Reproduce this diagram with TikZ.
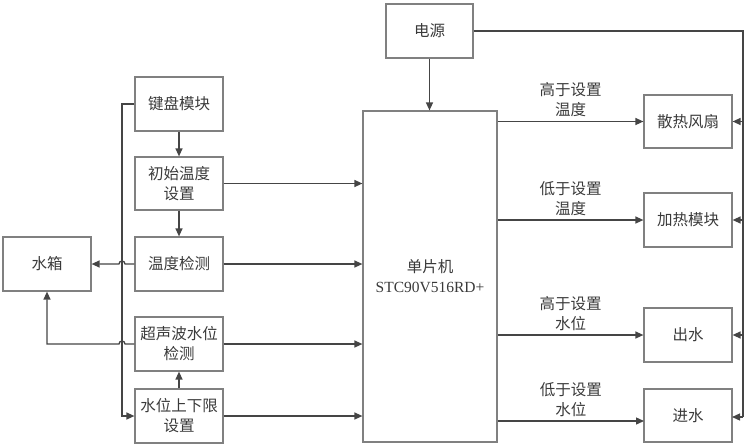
\documentclass[tikz,border=0pt]{standalone}
\usepackage{fontspec}
\setmainfont{Noto Sans CJK SC}
\newfontfamily\lat{Liberation Serif}
\usetikzlibrary{arrows.meta,calc}
\definecolor{boxc}{HTML}{808080}
\definecolor{linec}{HTML}{454545}
\definecolor{txtc}{HTML}{3A3A3A}
\tikzset{
 blk/.style={draw=boxc,line width=1.2pt,minimum width=88pt,minimum height=54pt,inner sep=0pt,align=center,text=txtc,font=\fontsize{15.5}{20}\selectfont},
 conn/.style={draw=linec,line width=1.3pt,-{Triangle[length=8pt,width=7pt]}},
 plain/.style={draw=linec,line width=1.3pt},
 lbl/.style={text=txtc,font=\fontsize{15.5}{20}\selectfont,align=center,inner sep=0pt},
}
\begin{document}
\begin{tikzpicture}[x=1pt,y=-1pt]
\useasboundingbox (0,0) rectangle (749,447);
% nodes
\node[blk,minimum width=87pt] (power) at (429.5,31) {电源};
\node[blk,minimum width=134pt,minimum height=331pt] (mcu) at (430,276.5) {单片机\\{\lat\fontsize{15.5}{20}\selectfont STC90V516RD+}};
\node[blk] (kb) at (179,104) {键盘模块};
\node[blk,minimum height=53pt] (init) at (179,183.5) {初始温度\\设置};
\node[blk] (tdet) at (179,264) {温度检测};
\node[blk] (ultra) at (179,344) {超声波水位\\检测};
\node[blk] (lim) at (179,416) {水位上下限\\设置};
\node[blk] (tank) at (47,264) {水箱};
\node[blk,minimum height=53pt] (fan) at (688,121.5) {散热风扇};
\node[blk] (heat) at (688,220) {加热模块};
\node[blk] (out) at (688,335) {出水};
\node[blk,minimum height=53pt] (in) at (688,415.5) {进水};
% helper coordinates
\coordinate (kbL) at (122,0);
\coordinate (rx) at (743,0);
\coordinate (inA) at (644,421);
\coordinate (inB) at (732,417);
% left side
\draw[conn] (power.south) -- (power.south |- mcu.north);
\draw[conn] (kb) -- (init);
\draw[conn] (init) -- (tdet);
\draw[conn] (lim) -- (ultra);
\draw[conn] (init.east) -- (init.east -| mcu.west);
\draw[conn] (tdet.east) -- (tdet.east -| mcu.west);
\draw[conn] (ultra.east) -- (ultra.east -| mcu.west);
\draw[conn] (lim.east) -- (lim.east -| mcu.west);
\draw[conn] (kb.west) -- (kb.west -| kbL) -- (kbL |- lim.west) -- (lim.west);
\draw[conn] (tdet.west) -- ($(kbL |- tdet.west)+(3,0)$) arc[start angle=0,end angle=180,radius=3pt] -- (tank.east);
\draw[conn] (ultra.west) -- ($(kbL |- ultra.west)+(3,0)$) arc[start angle=0,end angle=180,radius=3pt] -- (tank.south |- ultra.west) -- (tank.south);
% right side
\draw[conn] (mcu.east |- fan.west) -- node[lbl,midway,above=4pt] {高于设置\\温度} (fan.west);
\draw[conn] (mcu.east |- heat.west) -- node[lbl,midway,above=4pt] {低于设置\\温度} (heat.west);
\draw[conn] (mcu.east |- out.west) -- node[lbl,midway,above=4pt] {高于设置\\水位} (out.west);
\draw[conn] (mcu.east |- inA) -- node[lbl,midway,above=4pt] {低于设置\\水位} (inA);
% power bus
\draw[plain,line width=1.8pt] (power.east) -- (power.east -| rx) -- (rx |- inB);
\draw[conn] (rx |- fan.east) -- (fan.east);
\draw[conn] (rx |- heat.east) -- (heat.east);
\draw[conn] (rx |- out.east) -- (out.east);
\draw[conn] (rx |- inB) -- (inB);
\end{tikzpicture}
\end{document}
